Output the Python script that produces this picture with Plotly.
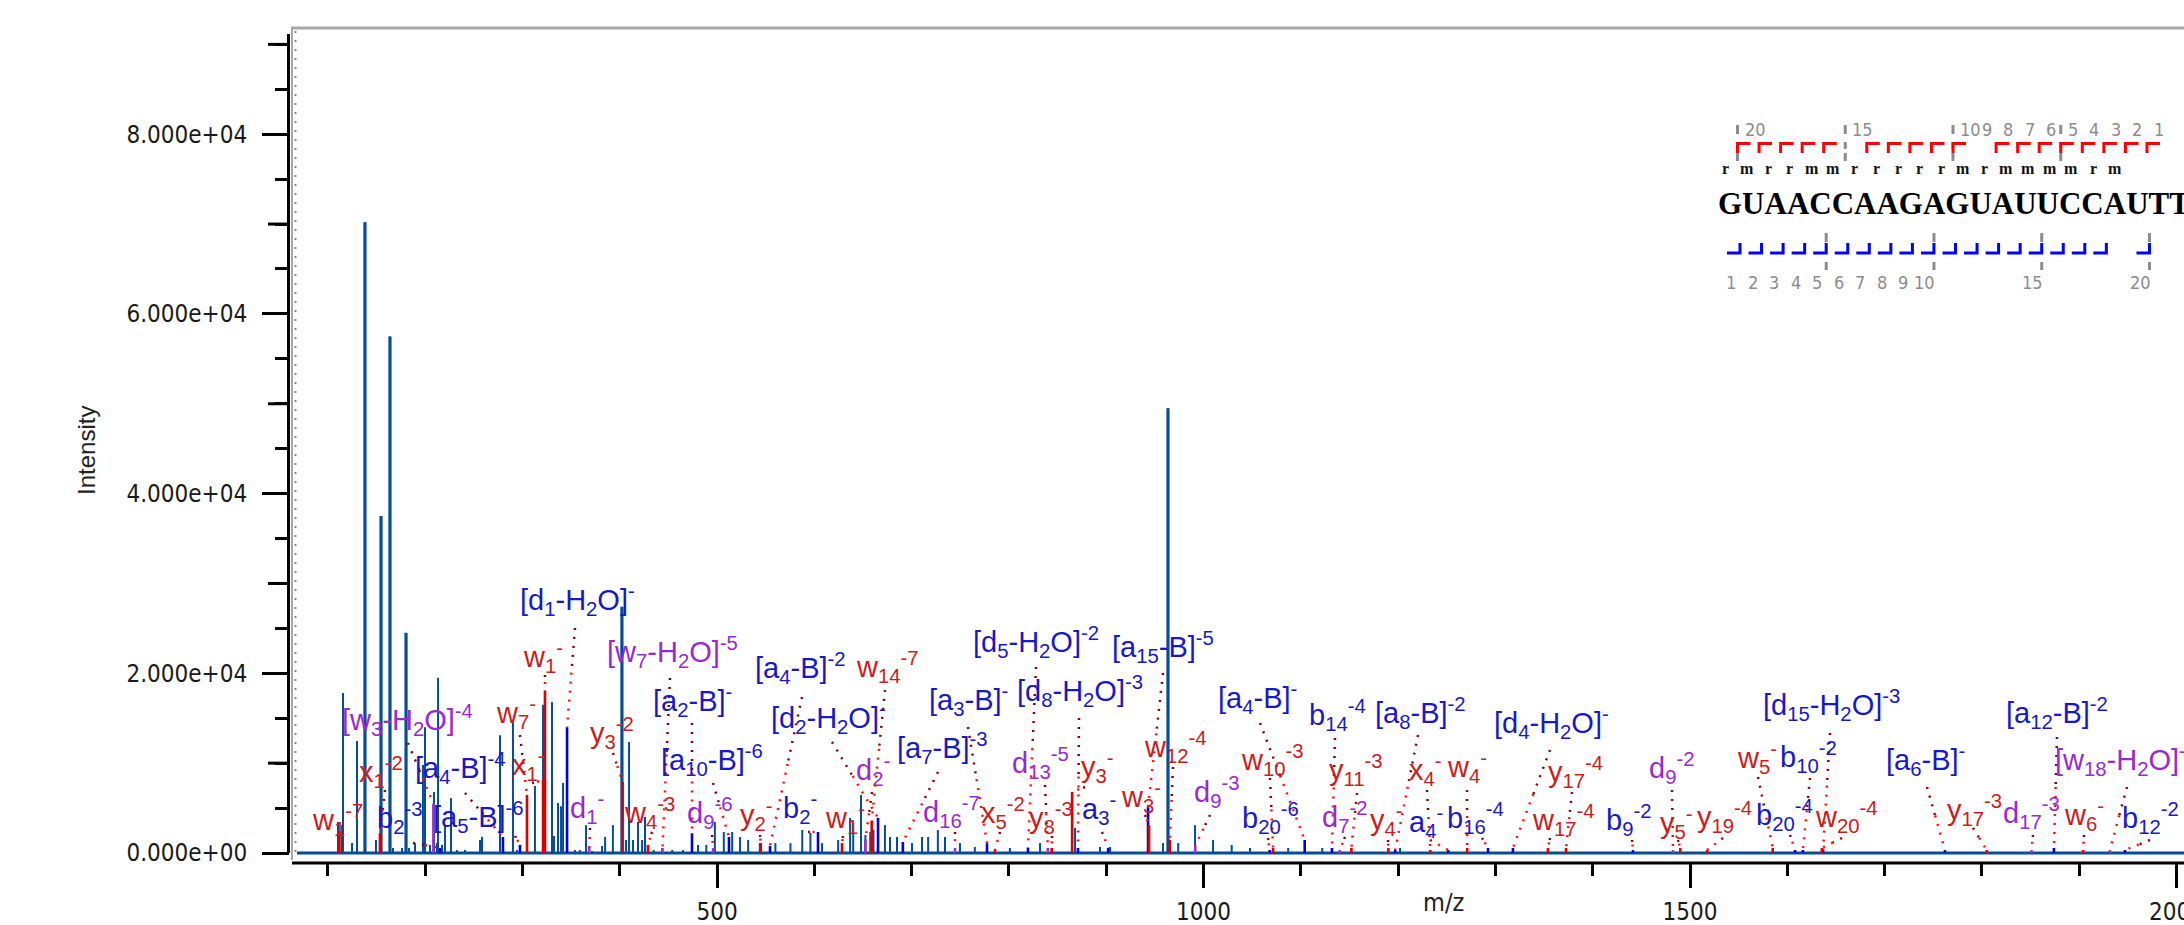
import plotly.graph_objects as go

# ======================= DATA =======================
# unannotated spectrum peaks (m/z, intensity)
main_mz = [110.5, 114.6, 115.6, 124.9, 130.0, 138.2, 149.5, 154.7, 163.9, 167.0,
           176.3, 180.4, 183.5, 189.6, 197.8, 199.9, 205.0, 209.1, 212.2, 213.3,
           217.4, 220.4, 226.6, 232.9, 241.0, 256.4, 258.5, 277.0, 290.3, 294.4,
           312.9, 321.2, 330.4, 332.5, 336.6, 339.7, 341.8, 354.0, 359.0, 365.4,
           371.6, 381.9, 385.0, 393.0, 402.3, 406.5, 409.6, 413.7, 418.8, 423.0,
           426.0, 435.0, 443.5, 454.0, 465.0, 480.5, 489.0, 497.8, 507.0, 515.6,
           523.7, 532.0, 544.0, 560.0, 575.5, 587.6, 596.0, 608.0, 624.5, 636.8,
           640.0, 648.0, 652.5, 657.5, 660.8, 672.6, 677.8, 685.0, 700.4, 710.7,
           717.0, 727.0, 734.3, 749.7, 765.0, 801.0, 832.0, 868.0, 893.6, 904.0,
           958.4, 963.5, 974.0, 991.3, 1009.8, 1029.0, 1047.8, 1087.0, 1122.0, 1202.0]
main_int = [3450, 3120, 17800, 1110, 12470, 70200, 1450, 37500, 57500, 560,
            560, 24500, 560, 1100, 9800, 14000, 900, 6800, 1100, 19500,
            900, 3000, 6100, 330, 330, 1450, 1800, 13100, 14800, 330,
            7450, 16500, 16800, 1900, 5560, 5200, 7800, 330, 330, 3100,
            220, 780, 1800, 3100, 27400, 1450, 12350, 1450, 3450, 1450,
            4000, 330, 560, 330, 330, 890, 890, 3450, 2340, 2340,
            1780, 1450, 1100, 1100, 1100, 2560, 2230, 1100, 1450, 3900,
            3340, 6450, 2000, 2340, 2560, 3100, 1780, 1780, 1100, 1780,
            1780, 2560, 1780, 1100, 670, 560, 1100, 2780, 670, 670,
            1100, 49500, 1100, 3100, 1450, 890, 560, 560, 560, 560]

# annotated ions: a/b/d-type (blue)
blue_text = ["[d<sub>1</sub>-H<sub>2</sub>O]<sup>-</sup>", "[a<sub>2</sub>-B]<sup>-</sup>",
             "[a<sub>10</sub>-B]<sup>-6</sup>", "[a<sub>4</sub>-B]<sup>-4</sup>",
             "[a<sub>5</sub>-B]<sup>-6</sup>", "b<sub>2</sub><sup>-3</sup>",
             "[a<sub>4</sub>-B]<sup>-2</sup>", "[d<sub>2</sub>-H<sub>2</sub>O]<sup>-</sup>",
             "b<sub>2</sub><sup>-</sup>", "[a<sub>7</sub>-B]<sup>-3</sup>",
             "[a<sub>3</sub>-B]<sup>-</sup>", "[d<sub>5</sub>-H<sub>2</sub>O]<sup>-2</sup>",
             "[d<sub>8</sub>-H<sub>2</sub>O]<sup>-3</sup>", "[a<sub>15</sub>-B]<sup>-5</sup>",
             "a<sub>3</sub><sup>-</sup>", "[a<sub>4</sub>-B]<sup>-</sup>",
             "b<sub>14</sub><sup>-4</sup>", "[a<sub>8</sub>-B]<sup>-2</sup>",
             "b<sub>20</sub><sup>-6</sup>", "a<sub>4</sub><sup>-</sup>",
             "b<sub>16</sub><sup>-4</sup>", "[d<sub>4</sub>-H<sub>2</sub>O]<sup>-</sup>",
             "b<sub>9</sub><sup>-2</sup>", "[d<sub>15</sub>-H<sub>2</sub>O]<sup>-3</sup>",
             "b<sub>10</sub><sup>-2</sup>", "b<sub>20</sub><sup>-4</sup>",
             "[a<sub>12</sub>-B]<sup>-2</sup>", "[a<sub>6</sub>-B]<sup>-</sup>",
             "b<sub>12</sub><sup>-2</sup>"]
blue_mz = [345.9, 474.3, 512.3, 280.0, 297.5, 215.3, 554.5, 665.5, 603.8, 691.0,
           777.5, 819.6, 871.0, 943.0, 902.0, 1104.0, 1132.0, 1197.0, 1068.0, 1251.5,
           1292.4, 1318.0, 1441.4, 1636.8, 1616.0, 1608.0, 1874.0, 1762.0, 1947.0]
blue_int = [14000, 2200, 1780, 1780, 900, 560, 780, 3900, 2340, 1220,
            1100, 560, 560, 5100, 560, 1450, 560, 330, 330, 330,
            560, 560, 330, 330, 330, 330, 560, 330, 330]

# annotated ions: d / internal (purple)
purple_text = ["[w<sub>3</sub>-H<sub>2</sub>O]<sup>-4</sup>", "[w<sub>7</sub>-H<sub>2</sub>O]<sup>-5</sup>",
               "d<sub>1</sub><sup>-</sup>", "d<sub>9</sub><sup>-6</sup>", "d<sub>2</sub><sup>-</sup>",
               "d<sub>16</sub><sup>-7</sup>", "d<sub>13</sub><sup>-5</sup>", "d<sub>9</sub><sup>-3</sup>",
               "d<sub>7</sub><sup>-2</sup>", "d<sub>9</sub><sup>-2</sup>", "d<sub>17</sub><sup>-3</sup>",
               "[w<sub>18</sub>-H<sub>2</sub>O]<sup>-</sup>"]
purple_mz = [208.5, 444.0, 368.7, 496.0, 652.5, 744.6, 840.0, 991.5, 1140.0, 1482.5, 1851.0, 1931.5]
purple_int = [5500, 560, 560, 560, 1500, 560, 560, 800, 330, 330, 330, 330]

# annotated ions: w/x/y-type (red)
red_text = ["w<sub>1</sub><sup>-7</sup>", "x<sub>1</sub><sup>-2</sup>", "w<sub>1</sub><sup>-</sup>",
            "w<sub>7</sub><sup>-</sup>", "x<sub>1</sub><sup>-</sup>", "y<sub>3</sub><sup>-2</sup>",
            "w<sub>4</sub><sup>-3</sup>", "w<sub>14</sub><sup>-7</sup>", "y<sub>2</sub><sup>-</sup>",
            "w<sub>1</sub><sup>-</sup>", "x<sub>5</sub><sup>-2</sup>", "y<sub>8</sub><sup>-3</sup>",
            "y<sub>3</sub><sup>-</sup>", "w<sub>12</sub><sup>-4</sup>", "w<sub>3</sub><sup>-</sup>",
            "w<sub>10</sub><sup>-3</sup>", "y<sub>11</sub><sup>-3</sup>", "x<sub>4</sub><sup>-</sup>",
            "w<sub>4</sub><sup>-</sup>", "y<sub>4</sub><sup>-</sup>", "y<sub>17</sub><sup>-4</sup>",
            "w<sub>17</sub><sup>-4</sup>", "y<sub>5</sub><sup>-</sup>", "y<sub>19</sub><sup>-4</sup>",
            "w<sub>5</sub><sup>-</sup>", "w<sub>20</sub><sup>-4</sup>", "y<sub>17</sub><sup>-3</sup>",
            "w<sub>6</sub><sup>-</sup>"]
red_mz = [112.0, 153.6, 323.2, 304.7, 321.2, 403.0, 429.0, 659.0, 545.0, 628.5,
          785.7, 844.0, 865.0, 965.4, 944.0, 1071.5, 1152.0, 1233.0, 1271.0, 1190.0,
          1372.6, 1354.0, 1490.0, 1517.5, 1585.0, 1635.5, 1805.0, 1904.0]
red_int = [2400, 2200, 18100, 6450, 8100, 7900, 900, 3600, 1100, 1100,
           330, 560, 6800, 1450, 3100, 560, 560, 330, 560, 560,
           560, 560, 560, 330, 560, 560, 330, 330]

# sequence coverage
seq = "GUAACCAAGAGUAUUCCAUTT"
mods = "rmrrmmrrrrrmrmmmmrm"
top_obs = [20, 19, 18, 17, 16, 14, 13, 12, 11, 10, 8, 7, 6, 5, 4, 3, 2, 1]
top_nums = [20, 15, 10, 9, 8, 7, 6, 5, 4, 3, 2, 1]
bot_obs = [1, 2, 3, 4, 5, 6, 7, 8, 9, 10, 11, 12, 13, 14, 15, 16, 17, 18, 20]
bot_nums = [1, 2, 3, 4, 5, 6, 7, 8, 9, 10, 15, 20]

ytick_vals = [0, 20000, 40000, 60000, 80000]
ytick_text = ["0.000e+00", "2.000e+04", "4.000e+04", "6.000e+04", "8.000e+04"]
ymid_vals = [10000, 30000, 50000, 70000, 90000]
xtick_vals = [500, 1000, 1500, 2000]
xtick_text = ["500", "1000", "1500", "2000"]

# ======================= LAYOUT (pixels) =======================
W, H = 2184, 925
PL, PR, PT, PB = 290, 2184, 34, 862
X_RANGE = [61.15, 2007.7]
Y_RANGE = [-1002, 91155]

blue_lab = [(577, 600), (692, 701), (712, 760), (460, 768), (478, 817), (399, 818),
            (800, 668), (828, 718), (800, 808), (942, 748), (968, 700), (1036, 642),
            (1080, 691), (1163, 647), (1099, 809), (1257, 698), (1337, 715), (1420, 713),
            (1270, 818), (1426, 822), (1475, 818), (1551, 723), (1628, 820), (1831, 705),
            (1808, 757), (1784, 815), (2057, 713), (1925, 760), (2150, 818)]
blue_lead = [(575, 628), (692, 723), (713, 783), (465, 793), (515, 836), (413, 843),
             (802, 697), (832, 742), (808, 832), (938, 772), (968, 727), (1036, 667),
             (1079, 718), (1163, 673), (1102, 832), (1260, 723), (1335, 738), (1418, 735),
             (1268, 838), (1430, 840), (1482, 838), (1550, 750), (1632, 840), (1830, 733),
             (1810, 778), (1790, 835), (2057, 737), (1927, 787), (2150, 840)]
purple_lab = [(407, 720), (672, 652), (587, 808), (709, 813), (873, 770), (951, 812),
              (1040, 763), (1216, 792), (1344, 817), (1671, 768), (2031, 813), (2120, 760)]
purple_lead = [(408, 743), (670, 678), (590, 828), (712, 835), (872, 792), (955, 832),
               (1045, 785), (1210, 815), (1345, 837), (1672, 790), (2033, 835), (2127, 787)]
red_lab = [(337, 820), (381, 772), (543, 657), (516, 713), (528, 765), (612, 733),
           (649, 813), (887, 667), (756, 815), (845, 818), (1003, 813), (1051, 818),
           (1097, 767), (1175, 747), (1141, 797), (1272, 760), (1356, 770), (1425, 770),
           (1467, 767), (1386, 820), (1575, 772), (1563, 820), (1676, 823), (1724, 817),
           (1757, 758), (1846, 817), (1974, 810), (2084, 815)]
red_lead = [(340, 836), (385, 790), (545, 675), (520, 735), (532, 783), (613, 753),
            (652, 832), (885, 690), (760, 835), (843, 836), (1000, 832), (1052, 836),
            (1085, 787), (1173, 767), (1145, 815), (1270, 778), (1357, 793), (1427, 790),
            (1467, 790), (1388, 840), (1572, 792), (1550, 838), (1678, 840), (1723, 838),
            (1758, 777), (1842, 838), (1973, 828), (2084, 835)]

C_MAIN = "#064d98"
C_BLUE_LAB, C_BLUE_PK = "#1818c8", "#0000e0"
C_PUR_LAB, C_PUR_PK = "#9a28d4", "#9933cc"
C_RED_LAB, C_RED_PK = "#cc1c1c", "#dd0000"
LAB_FONT = "Liberation Sans, Arial, sans-serif"
NARROW = "Liberation Sans Narrow, Arial Narrow, DejaVu Sans Condensed, Liberation Sans, sans-serif"
SERIF = "Liberation Serif, Times New Roman, serif"


def fx(px):
    return (px - PL) / (PR - PL)


def fy(py):
    return (PB - py) / (PB - PT)


def px2mz(px):
    return X_RANGE[0] + fx(px) * (X_RANGE[1] - X_RANGE[0])


def py2int(py):
    return Y_RANGE[0] + fy(py) * (Y_RANGE[1] - Y_RANGE[0])


def sticks(mz, it):
    xs, ys = [], []
    for m, v in zip(mz, it):
        xs += [m, m, None]
        ys += [0, v, None]
    return xs, ys


fig = go.Figure()

# baseline of the spectrum
shapes = [dict(type="line", xref="paper", yref="y", x0=fx(297), x1=1, y0=0, y1=0,
               line=dict(color=C_MAIN, width=3), layer="below")]

xs, ys = sticks(main_mz, main_int)
fig.add_trace(go.Scatter(x=xs, y=ys, mode="lines", line=dict(color=C_MAIN, width=2),
                         hoverinfo="skip", showlegend=False))
big = [(m, v) for m, v in zip(main_mz, main_int) if v > 20000]
xs, ys = sticks([b[0] for b in big], [b[1] for b in big])
fig.add_trace(go.Scatter(x=xs, y=ys, mode="lines", line=dict(color=C_MAIN, width=3.2),
                         hoverinfo="skip", showlegend=False))

for mz, it, col in [(blue_mz, blue_int, C_BLUE_PK), (purple_mz, purple_int, C_PUR_PK),
                    (red_mz, red_int, C_RED_PK)]:
    xs, ys = sticks(mz, it)
    fig.add_trace(go.Scatter(x=xs, y=ys, mode="lines", line=dict(color=col, width=2.6),
                             hoverinfo="skip", showlegend=False))

# leader lines (dotted: dark red near label, red near peak)
dx, dy, rx, ry = [], [], [], []
for leads, mzs, its in [(blue_lead, blue_mz, blue_int), (purple_lead, purple_mz, purple_int),
                        (red_lead, red_mz, red_int)]:
    for (lx, ly), m, v in zip(leads, mzs, its):
        sx, sy = px2mz(lx), py2int(ly)
        mx, my = sx + (m - sx) * 0.45, sy + (v - sy) * 0.45
        dx += [sx, mx, None]
        dy += [sy, my, None]
        rx += [mx, m, None]
        ry += [my, v, None]
fig.add_trace(go.Scatter(x=dx, y=dy, mode="lines", line=dict(color="#8b0000", width=2.5, dash="2px,7px"),
                         hoverinfo="skip", showlegend=False))
fig.add_trace(go.Scatter(x=rx, y=ry, mode="lines", line=dict(color="#ff1010", width=2.5, dash="2px,7px"),
                         hoverinfo="skip", showlegend=False))

annotations = []
for texts, labs, col in [(blue_text, blue_lab, C_BLUE_LAB), (purple_text, purple_lab, C_PUR_LAB),
                         (red_text, red_lab, C_RED_LAB)]:
    for t, (lx, ly) in zip(texts, labs):
        annotations.append(dict(text=t, x=fx(lx), y=fy(ly), xref="paper", yref="paper",
                                showarrow=False, xanchor="center", yanchor="middle",
                                font=dict(family=LAB_FONT, size=29, color=col)))

# axis titles
annotations.append(dict(text="Intensity", x=fx(86), y=fy(451), xref="paper", yref="paper",
                        showarrow=False, textangle=-90, xanchor="center", yanchor="middle",
                        font=dict(family=LAB_FONT, size=24, color="#222")))
annotations.append(dict(text="m/z", x=fx(1443), y=fy(902), xref="paper", yref="paper",
                        showarrow=False, xanchor="center", yanchor="middle",
                        font=dict(family=NARROW, size=25, color="#222")))

# ---- axis decoration ----
shapes.append(dict(type="line", xref="paper", yref="paper", x0=fx(288.5), x1=fx(288.5),
                   y0=fy(853), y1=fy(34), line=dict(color="black", width=3)))
shapes.append(dict(type="line", xref="paper", yref="paper", x0=fx(292), x1=1,
                   y0=fy(863), y1=fy(863), line=dict(color="black", width=3)))
shapes.append(dict(type="line", xref="paper", yref="paper", x0=fx(292), x1=fx(292),
                   y0=fy(27), y1=fy(860), line=dict(color="#a8a8a8", width=2)))
shapes.append(dict(type="line", xref="paper", yref="paper", x0=fx(291), x1=1,
                   y0=fy(28), y1=fy(28), line=dict(color="#a8a8a8", width=3)))
shapes.append(dict(type="line", xref="paper", yref="paper", x0=fx(295.5), x1=fx(295.5),
                   y0=fy(31), y1=fy(853), line=dict(color="#8a8a8a", width=2, dash="2px,7px")))
for v in ymid_vals:
    shapes.append(dict(type="line", xref="paper", yref="y", x0=fx(268), x1=fx(290),
                       y0=v, y1=v, line=dict(color="black", width=3)))

# ---- sequence coverage panel ----
PB_ = 21.55
TOP0 = 1737.5   # bracket x for top number 20
BOT0 = 1740.0   # bracket x for bottom number 1
GRAY = "#8c8c8c"


def topx(n):
    return TOP0 + (20 - n) * PB_


def botx(k):
    return BOT0 + (k - 1) * PB_


for n in [20, 15, 10, 5]:
    bx = topx(n)
    for a, b in [(125, 134), (142, 149), (153, 161)]:
        shapes.append(dict(type="line", xref="paper", yref="paper", x0=fx(bx), x1=fx(bx),
                           y0=fy(a), y1=fy(b), line=dict(color=GRAY, width=3)))
for k in [5, 10, 15, 20]:
    bx = botx(k)
    for a, b in [(233, 242), (262, 270)]:
        shapes.append(dict(type="line", xref="paper", yref="paper", x0=fx(bx), x1=fx(bx),
                           y0=fy(a), y1=fy(b), line=dict(color=GRAY, width=3)))
for n in top_obs:
    bx = topx(n)
    shapes.append(dict(type="path", xref="paper", yref="paper",
                       path="M {} {} L {} {} L {} {}".format(fx(bx), fy(153), fx(bx), fy(143.5), fx(bx + 13), fy(143.5)),
                       line=dict(color="#ff0000", width=3)))
for k in bot_obs:
    bx = botx(k)
    shapes.append(dict(type="path", xref="paper", yref="paper",
                       path="M {} {} L {} {} L {} {}".format(fx(bx - 13), fy(253), fx(bx), fy(253), fx(bx), fy(243)),
                       line=dict(color="#0000ff", width=3)))
for n in top_nums:
    annotations.append(dict(text=str(n), x=fx(topx(n) + 5), y=fy(130), xref="paper", yref="paper",
                            showarrow=False, xanchor="left", yanchor="middle",
                            font=dict(family=NARROW, size=18, color=GRAY)))
for k in bot_nums:
    annotations.append(dict(text=str(k), x=fx(botx(k) - 9), y=fy(282), xref="paper", yref="paper",
                            showarrow=False, xanchor="center", yanchor="middle",
                            font=dict(family=NARROW, size=18, color=GRAY)))
for i, ch in enumerate(mods):
    annotations.append(dict(text="<b>" + ch + "</b>", x=fx(1725 + 21.65 * i), y=fy(168), xref="paper",
                            yref="paper", showarrow=False, xanchor="center", yanchor="middle",
                            font=dict(family=SERIF, size=16, color="#111")))
annotations.append(dict(text="<b>" + seq + "</b>", x=fx(1716), y=fy(203), xref="paper", yref="paper",
                        showarrow=False, xanchor="left", yanchor="middle",
                        font=dict(family=SERIF, size=31, color="#000")))

fig.update_layout(
    width=W, height=H,
    margin=dict(l=PL, r=W - PR, t=PT, b=H - PB, pad=0, autoexpand=False),
    paper_bgcolor="white", plot_bgcolor="white",
    showlegend=False,
    shapes=shapes, annotations=annotations,
    xaxis=dict(range=X_RANGE, showgrid=False, zeroline=False, showline=False, automargin=False,
               tickmode="array", tickvals=xtick_vals, ticktext=xtick_text,
               ticks="outside", ticklen=25, tickwidth=3, tickcolor="black",
               ticklabelstandoff=3, ticklabeloverflow="allow",
               tickfont=dict(family=NARROW, size=24, color="#1a1a1a"),
               minor=dict(ticks="outside", tickmode="linear", tick0=0, dtick=100,
                          ticklen=13, tickwidth=3, tickcolor="black", showgrid=False)),
    yaxis=dict(range=Y_RANGE, showgrid=False, zeroline=False, showline=False, automargin=False,
               tickmode="array", tickvals=ytick_vals, ticktext=ytick_text,
               ticks="outside", ticklen=27, tickwidth=3, tickcolor="black",
               ticklabelstandoff=10,
               tickfont=dict(family=NARROW, size=24, color="#1a1a1a"),
               minor=dict(ticks="outside", tickmode="linear", tick0=0, dtick=5000,
                          ticklen=14, tickwidth=3, tickcolor="black", showgrid=False)),
)

fig.write_html("out.html", config={"displayModeBar": False},
               post_script="document.body.style.margin='0';document.body.style.overflow='hidden';")
